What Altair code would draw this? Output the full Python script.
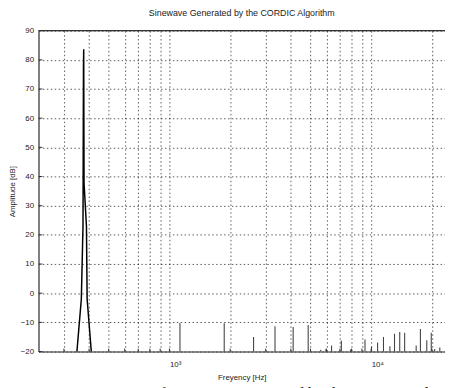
import altair as alt
import pandas as pd

# ---- text ----
title_text = "Sinewave Generated by the CORDIC Algorithm"
x_title = "Freyency [Hz]"
y_title = "Amplitude [dB]"
caption_text = "Figure 4.11: Spectrum of a sinewave generated by the CORDIC Algorithm"

# ---- axes ----
x_domain = [224.5, 23220]
y_domain = [-20, 90]
x_grid_values = [300, 400, 500, 600, 700, 800, 900, 1000,
                 2000, 3000, 4000, 5000, 6000, 7000, 8000, 9000, 10000, 20000]
y_tick_values = [-20, -10, 0, 10, 20, 30, 40, 50, 60, 70, 80, 90]

# ---- main tone (line through spectrum bins) ----
peak_freq = [335, 348, 366, 373, 375, 376, 377.5, 388, 391, 410, 424]
peak_db = [-30, -20, -2, 23, 77.5, 83.6, 37.7, 23, -2, -20, -30]

# ---- spurs ----
spur_freq = [1128, 1869, 2613, 3337, 4105, 4873, 5621, 5965, 6362, 7116,
             7901, 9318, 10034, 10758, 11508, 12380, 13050, 13850, 14650,
             16710, 17540, 18860, 19850, 20640, 21880]
spur_db = [-10.2, -10.3, -15.0, -11.3, -11.6, -10.9, -19.4, -19.2, -17.9, -16.2,
           -19.3, -15.9, -18.3, -16.9, -15.0, -18.2, -13.9, -13.3, -13.6,
           -17.9, -12.3, -16.1, -13.6, -19.1, -18.6]

W, H = 413, 326
FONT = "Liberation Sans"

x_scale = alt.Scale(type="log", domain=x_domain, nice=False)
y_scale = alt.Scale(domain=y_domain, nice=False, zero=False)

x_axis = alt.Axis(
    values=x_grid_values,
    labelExpr="datum.value == 1000 ? '10³' : (datum.value == 10000 ? '10⁴' : '')",
    grid=True, gridDash=[1.5, 2.5], gridColor="#000", gridOpacity=0.65,
    ticks=False, domainColor="#333", domainWidth=1.2,
    labelFont=FONT, labelFontSize=8, labelColor="#222", labelPadding=9,
    labelAlign="left", labelFlush=False, labelOverlap=False,
    title=x_title, titleFont=FONT, titleFontSize=8, titleFontWeight="normal",
    titleColor="#222", titlePadding=5,
)
y_axis = alt.Axis(
    values=y_tick_values, format="d", labelOverlap=False, labelFlush=False,
    grid=True, gridDash=[1.5, 2.5], gridColor="#000", gridOpacity=0.65,
    ticks=False, domainColor="#333", domainWidth=1.2,
    labelFont=FONT, labelFontSize=8, labelColor="#222", labelPadding=5,
    title=y_title, titleFont=FONT, titleFontSize=8, titleFontWeight="normal",
    titleColor="#222", titlePadding=4,
)

peak_df = pd.DataFrame({"f": peak_freq, "db": peak_db})
spur_df = pd.DataFrame({"f": spur_freq, "db": spur_db})
xt_df = pd.DataFrame({"f": x_grid_values})
yt_df = pd.DataFrame({"db": y_tick_values})
one = pd.DataFrame({"a": [0]})

X = lambda: alt.X("f:Q", scale=x_scale, axis=x_axis)
Y = lambda: alt.Y("db:Q", scale=y_scale, axis=y_axis)

peak = alt.Chart(peak_df).mark_line(color="#000", strokeWidth=1.5, clip=True).encode(
    x=X(), y=Y(),
)

spurs = alt.Chart(spur_df).mark_rule(color="#444", strokeWidth=1.1).encode(
    x=X(), y=Y(), y2=alt.datum(-20),
)

x_ticks = alt.Chart(xt_df).mark_rule(color="#333", strokeWidth=1).encode(
    x=X(), y=alt.value(H), y2=alt.value(H - 3),
)
y_ticks = alt.Chart(yt_df).mark_rule(color="#333", strokeWidth=1).encode(
    y=Y(), x=alt.value(0), x2=alt.value(4),
)

top_border = alt.Chart(one).mark_rule(color="#333", strokeWidth=1.2).encode(
    x=alt.value(0), x2=alt.value(W + 5), y=alt.value(0),
)

caption = alt.Chart(one).mark_text(
    align="left", baseline="alphabetic", font="Liberation Serif", fontSize=16,
    color="#111",
).encode(
    x=alt.value(-31), y=alt.value(374), text=alt.datum(caption_text),
)

chart = alt.layer(peak, spurs, x_ticks, y_ticks, top_border, caption).properties(
    width=W, height=H,
    title=alt.TitleParams(title_text, font=FONT, fontSize=9, fontWeight="normal",
                          color="#222", anchor="middle", offset=9),
    padding={"left": 31, "top": 20, "right": 0, "bottom": 34},
    autosize=alt.AutoSizeParams(type="none"),
).configure_view(stroke=None).configure(background="white")

chart.save("out.html", embed_options={"renderer": "svg", "actions": False})
